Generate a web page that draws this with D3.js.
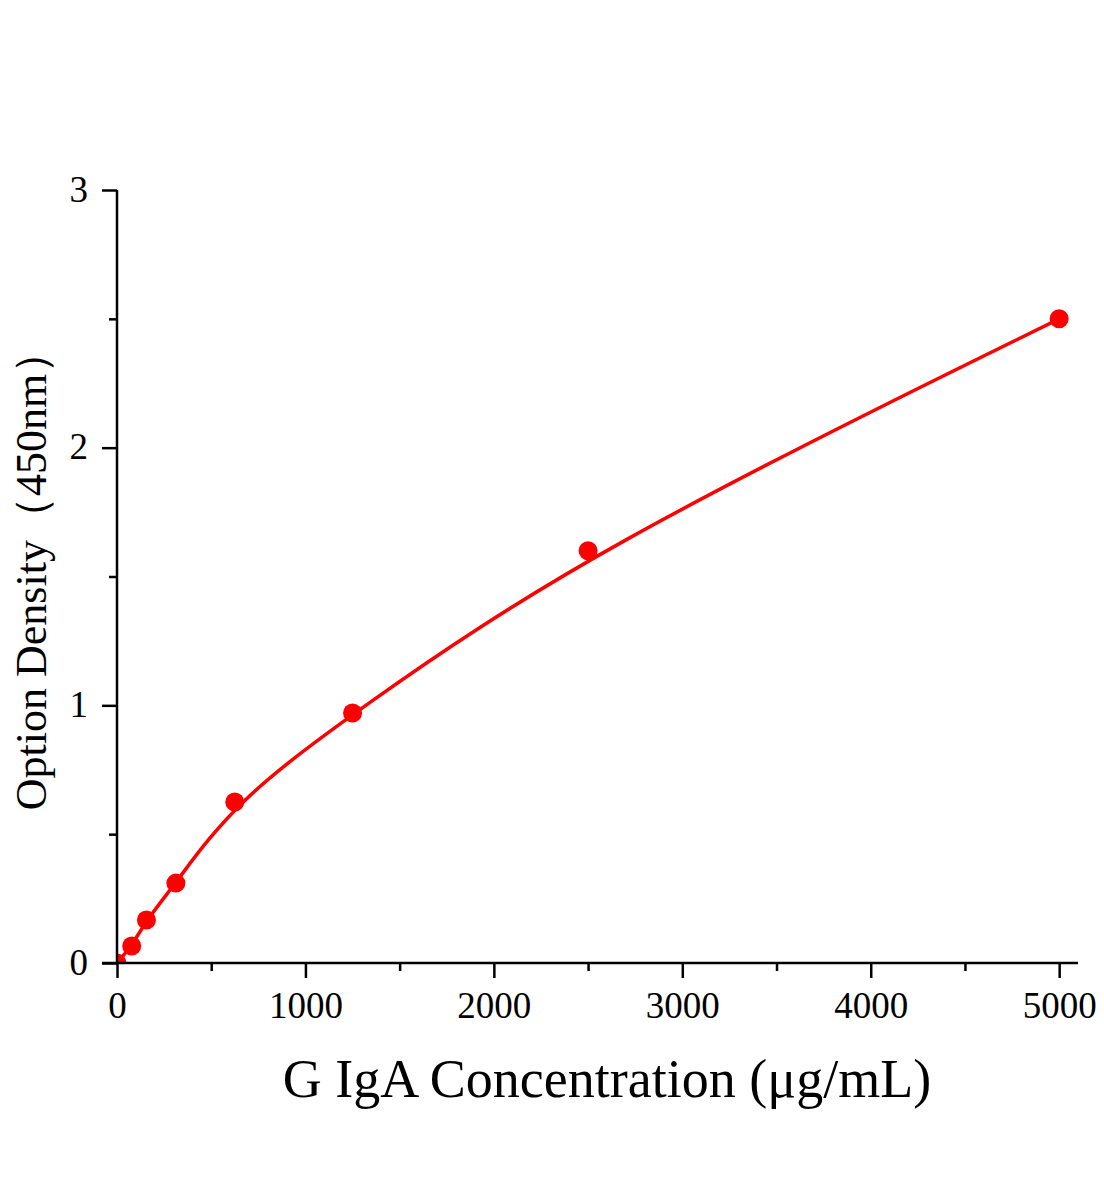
<!DOCTYPE html>
<html>
<head>
<meta charset="utf-8">
<script src="https://cdn.jsdelivr.net/npm/d3@7"></script>
<style>
  body { margin: 0; background: #fff; }
  text { font-family: "Liberation Serif", "Times New Roman", serif; fill: #000; }
</style>
</head>
<body>
<svg id="chart" width="1104" height="1200"></svg>
<script>
// standard curve data
var concentrations = [0, 78.125, 156.25, 312.5, 625, 1250, 2500, 5000];
var densities = [0, 0.066, 0.167, 0.31, 0.625, 0.97, 1.60, 2.50];
var xTicks = [0, 1000, 2000, 3000, 4000, 5000];
var xMinorTicks = [500, 1500, 2500, 3500, 4500];
var yTicks = [0, 1, 2, 3];
var yMinorTicks = [0.5, 1.5, 2.5];
var xTitle = "G IgA Concentration (μg/mL)";
var yTitle = "Option Density（450nm）";

var svg = d3.select("#chart");
var mLeft = 117, mRight = 1078, mTop = 190, mBottom = 963;

var x = d3.scaleLinear().domain([0, 5100]).range([mLeft, mRight]);
var y = d3.scaleLinear().domain([0, 3]).range([mBottom, mTop]);

var pts = concentrations.map((c, i) => ({ x: c, y: densities[i] }));

// clip to plot area
svg.append("clipPath").attr("id", "plotclip")
  .append("rect").attr("x", mLeft).attr("y", mTop - 20)
  .attr("width", mRight - mLeft + 20).attr("height", mBottom - mTop + 20);

var plot = svg.append("g").attr("clip-path", "url(#plotclip)");

// smooth fitted-looking curve
var line = d3.line()
  .x(d => x(d.x))
  .y(d => y(d.y))
  .curve(d3.curveBasis);

plot.append("path")
  .datum(pts)
  .attr("d", line)
  .attr("fill", "none")
  .attr("stroke", "#ff0000")
  .attr("stroke-width", 3.5);

plot.selectAll("circle.pt")
  .data(pts)
  .enter().append("circle")
  .attr("class", "pt")
  .attr("cx", d => x(d.x))
  .attr("cy", d => y(d.y))
  .attr("r", 9.5)
  .attr("fill", "#ff0000");

// x axis
var xAxis = d3.axisBottom(x).tickValues(xTicks).tickFormat(d3.format("d"))
  .tickSize(15).tickSizeOuter(0).tickPadding(14);
var gx = svg.append("g").attr("transform", "translate(0," + mBottom + ")").call(xAxis);
gx.select(".domain").attr("d", "M" + (mLeft - 15) + ",0H" + mRight);
svg.append("g").attr("transform", "translate(0," + mBottom + ")")
  .call(d3.axisBottom(x).tickValues(xMinorTicks).tickSize(8).tickFormat(""))
  .select(".domain").remove();

// y axis
var yAxis = d3.axisLeft(y).tickValues(yTicks).tickFormat(d3.format("d"))
  .tickSize(15).tickSizeOuter(0).tickPadding(14);
var gy = svg.append("g").attr("transform", "translate(" + mLeft + ",0)").call(yAxis);
gy.select(".domain").attr("d", "M0," + mTop + "V" + mBottom);
svg.append("g").attr("transform", "translate(" + mLeft + ",0)")
  .call(d3.axisLeft(y).tickValues(yMinorTicks).tickSize(8).tickFormat(""))
  .select(".domain").remove();

svg.selectAll(".domain, .tick line").attr("stroke", "#000").attr("stroke-width", 2.5);
svg.selectAll(".tick text")
  .style("font-family", "'Liberation Serif', 'Times New Roman', serif")
  .style("font-size", "37px").attr("fill", "#000");
gy.selectAll(".tick text").attr("dy", "0.3em");

// titles
svg.append("text")
  .attr("x", 607)
  .attr("y", 1097)
  .attr("text-anchor", "middle")
  .style("font-size", "54px")
  .text(xTitle);

svg.append("text")
  .attr("transform", "translate(46," + 570 + ") rotate(-90)")
  .attr("text-anchor", "middle")
  .style("font-size", "44px")
  .text(yTitle);
</script>
</body>
</html>
